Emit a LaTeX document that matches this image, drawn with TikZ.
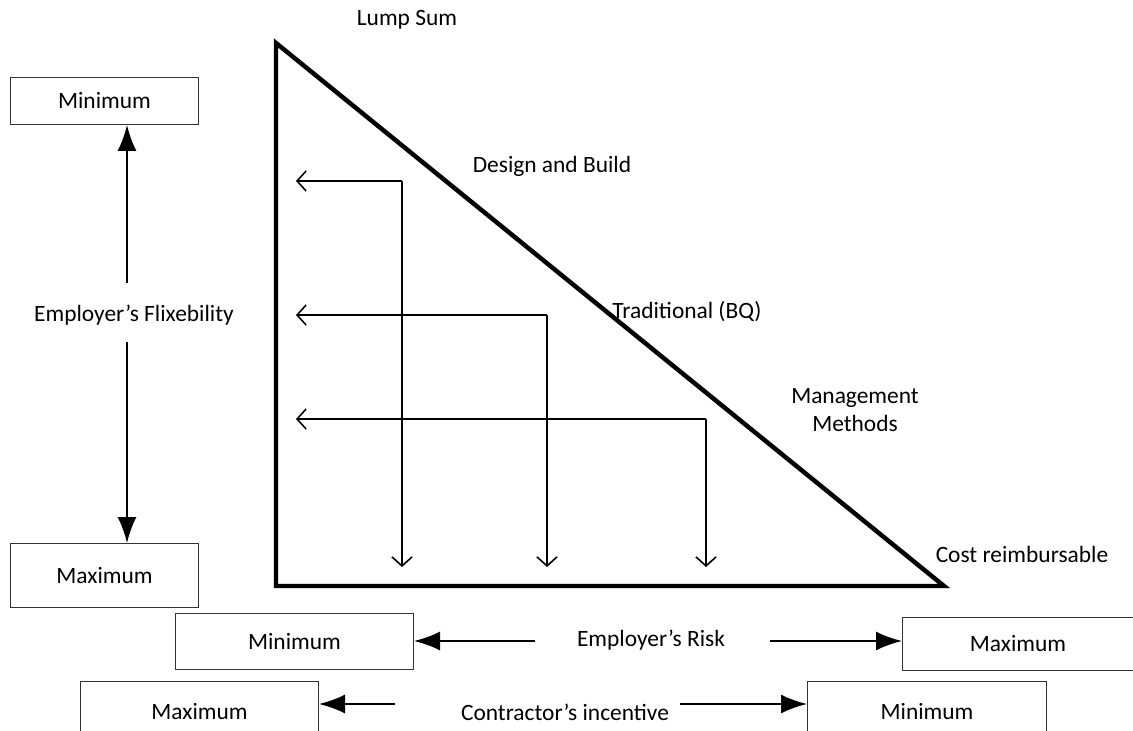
\documentclass[tikz,border=0pt]{standalone}
\usepackage{fontspec}
\setmainfont{Carlito}
\usetikzlibrary{arrows.meta}
\begin{document}
\begin{tikzpicture}[x=1bp, y=-1bp,
  every node/.style={font=\fontsize{23.5pt}{27.5pt}\selectfont, inner sep=0pt},
  valuebox/.style={draw=black!80, line width=1pt, minimum height=0pt, anchor=north west},
  label/.style={align=center},
  bigarrow/.style={line width=2pt, -{Latex[length=26bp, width=19bp]}},
  thinarrow/.style={line width=1.6pt, -{Straight Barb[length=9bp, width=20bp, line width=1.6pt]}},
  frame/.style={line width=4.5pt, line join=miter}
]
\useasboundingbox (0,0) rectangle (1133,731);
\clip (0,0) rectangle (1133,731);

% main triangle
\coordinate (top) at (276,43);
\coordinate (bl) at (276,586);
\coordinate (br) at (944,586);
\draw[frame] (top) -- (bl) -- (br) -- cycle;

% contract type labels along the hypotenuse
\node[label] (lump) at (407,20) {Lump Sum};
\node[label] (db) at (552,166) {Design and Build};
\node[label] (trad) at (687,312) {Traditional (BQ)};
\node[label] (mgmt) at (855,410) {Management\\Methods};
\node[label] (cost) at (1022,554) {Cost reimbursable};

% inner elbow arrows
\coordinate (c1) at (402,181);
\coordinate (c2) at (547,315);
\coordinate (c3) at (706,419);
\coordinate (l1) at (296,181);
\coordinate (l2) at (296,315);
\coordinate (l3) at (296,419);
\coordinate (d1) at (402,567);
\coordinate (d2) at (547,567);
\coordinate (d3) at (706,567);
\foreach \i in {1,2,3} {
  \draw[thinarrow] (c\i) -- (l\i);
  \draw[thinarrow] (c\i) -- (d\i);
}

% employer's flexibility scale
\node[valuebox, minimum width=188bp, minimum height=47bp] (fmin) at (10,77) {Minimum};
\node[valuebox, minimum width=188bp, minimum height=64bp] (fmax) at (10,543) {Maximum};
\node[label] (flex) at (134,315) {Employer’s Flixebility};
\coordinate (fup) at (127,283);
\coordinate (fdown) at (127,342);
\draw[bigarrow] (fup) -- (fmin.south -| fup);
\draw[bigarrow] (fdown) -- (fmax.north -| fdown);

% employer's risk scale
\node[valuebox, minimum width=238bp, minimum height=56bp] (rmin) at (175,613) {Minimum};
\node[valuebox, minimum width=231bp, minimum height=53bp] (rmax) at (902,617) {Maximum};
\node[label] (risk) at (651,640) {Employer’s Risk};
\coordinate (rl) at (535,641);
\coordinate (rr) at (770,641);
\draw[bigarrow] (rl) -- (rmin.east |- rl);
\draw[bigarrow] (rr) -- (rmax.west |- rr);

% contractor's incentive scale
\node[valuebox, minimum width=238bp, minimum height=60bp] (imax) at (80,681) {Maximum};
\node[valuebox, minimum width=239bp, minimum height=60bp] (imin) at (807,681) {Minimum};
\node[label] (inc) at (565,712) {Contractor’s incentive};
\coordinate (il) at (395,704);
\coordinate (ir) at (680,704);
\draw[bigarrow] (il) -- (imax.east |- il);
\draw[bigarrow] (ir) -- (imin.west |- ir);
\end{tikzpicture}
\end{document}
